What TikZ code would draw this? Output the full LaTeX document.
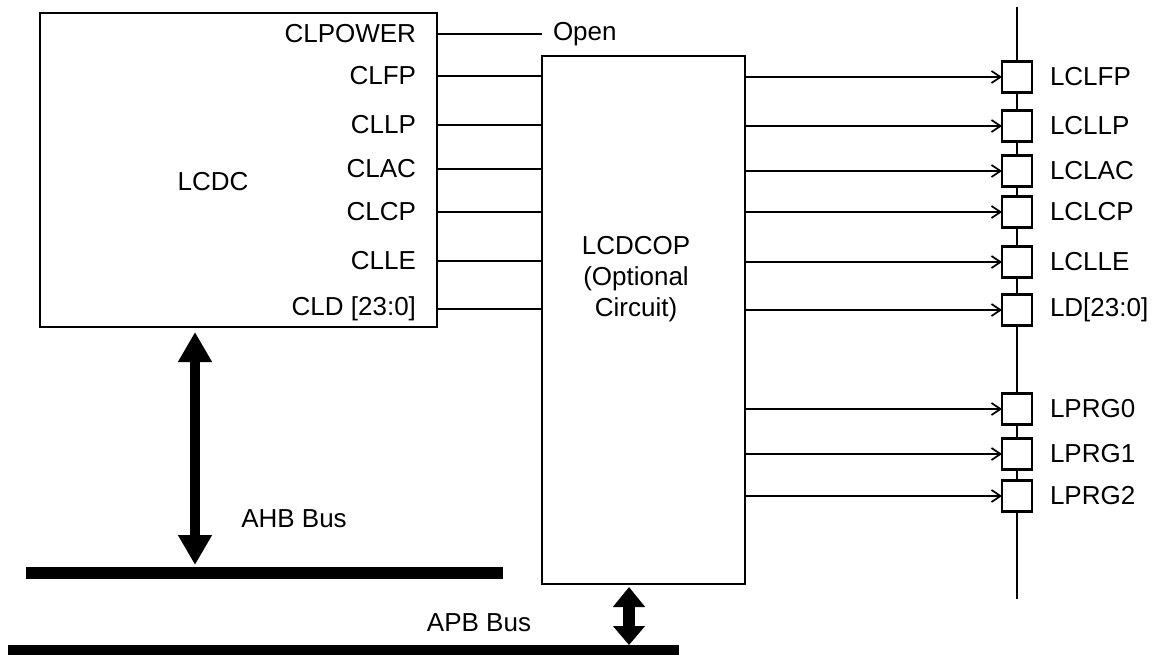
\documentclass[tikz,border=0pt]{standalone}
\usepackage{fontspec}
\setmainfont{Liberation Sans}
\usetikzlibrary{arrows.meta}
\begin{document}
\begin{tikzpicture}[x=1pt,y=-1pt,
  every node/.style={font=\fontsize{26}{31}\selectfont, inner sep=0pt, outer sep=0pt},
  blockbox/.style={draw, line width=1.9pt, fill=white},
  wire/.style={line width=1.7pt},
  padwire/.style={line width=1.7pt, -{Straight Barb[length=9pt,width=12pt,line width=1.7pt]}},
  padbox/.style={draw, line width=2.4pt, fill=white, minimum width=30pt, minimum height=31pt},
  busbar/.style={fill=black, draw=none},
  pinlabel/.style={anchor=east},
  padlabel/.style={anchor=west},
  bigarrow/.style={line width=10pt, {Triangle[length=30pt,width=32pt]}-{Triangle[length=30pt,width=32pt]}},
  smallarrow/.style={line width=12pt, {Triangle[length=20pt,width=31pt]}-{Triangle[length=19pt,width=31pt]}}
]
\useasboundingbox (0,0) rectangle (1156,655);

% blocks
\node[blockbox, minimum width=397pt, minimum height=314pt] (lcdc) at (238.5,170) {};
\node at (213,182) (lcdclabel) {LCDC};
\node[blockbox, minimum width=203pt, minimum height=528pt] (cop) at (643.5,320) {};
\node[align=center] (coplabel) at (636,279) {LCDCOP\\(Optional\\Circuit)};

% pins of LCDC
\coordinate (p0) at (437,34);
\coordinate (p1) at (437,76);
\coordinate (p2) at (437,125);
\coordinate (p3) at (437,169);
\coordinate (p4) at (437,212);
\coordinate (p5) at (437,261);
\coordinate (p6) at (437,309);
\node[pinlabel] (l0) at (416,34) {CLPOWER};
\node[pinlabel] (l1) at (416,76) {CLFP};
\node[pinlabel] (l2) at (416,125) {CLLP};
\node[pinlabel] (l3) at (416,169) {CLAC};
\node[pinlabel] (l4) at (416,212) {CLCP};
\node[pinlabel] (l5) at (416,261) {CLLE};
\node[pinlabel] (l6) at (416,309) {CLD [23:0]};

\node[anchor=west] (open) at (553,34) {Open};
\draw[wire] (p0) -- (open.west -| cop.west);
\foreach \i in {1,...,6} {
  \draw[wire] (p\i) -- (cop.west |- p\i);
}

% pad column
\coordinate (padtop) at (1017,7);
\coordinate (padbot) at (1017,599);
\draw[line width=1.8pt] (padtop) -- (padbot);

\foreach \n/\y/\t in {q1/77/LCLFP, q2/126/LCLLP, q3/171/LCLAC, q4/212/LCLCP, q5/262/LCLLE, q6/310/LD[23:0], q7/409/LPRG0, q8/454/LPRG1, q9/496/LPRG2} {
  \node[padbox] (\n) at (1017,\y) {};
  \node[padlabel] at (1050,\y) {\t};
  \draw[padwire] (cop.east |- \n.west) -- (\n.west);
}

% buses
\node[busbar, minimum width=477pt, minimum height=12pt] (ahb) at (264.5,573) {};
\node[busbar, minimum width=671pt, minimum height=10pt] (apb) at (343.5,650) {};
\node (ahblabel) at (294,519) {AHB Bus};
\node (apblabel) at (479,623) {APB Bus};

\coordinate (ahbx) at (195,0);
\coordinate (apbx) at (629,0);
\draw[bigarrow] ([yshift=-5pt]lcdc.south -| ahbx) -- ([yshift=2pt]ahb.north -| ahbx);
\draw[smallarrow] ([yshift=-3pt]cop.south -| apbx) -- (apb.north -| apbx);
\end{tikzpicture}
\end{document}
